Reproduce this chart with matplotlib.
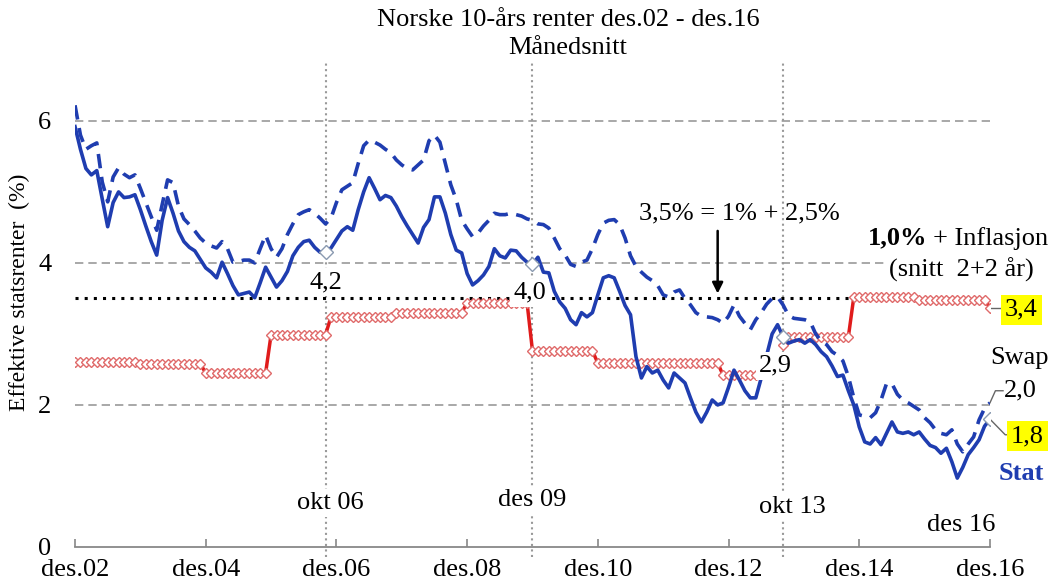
import numpy as np
import matplotlib
matplotlib.use('Agg')
import matplotlib.pyplot as plt

plt.rcParams['font.family'] = ['Liberation Serif', 'DejaVu Serif']

# månedlige verdier des.02 - des.16 (169 mnd)
stat = [5.92, 5.60, 5.33, 5.24, 5.30, 4.90, 4.51, 4.85, 5.00, 4.92, 4.93, 4.96,
        4.75, 4.52, 4.30, 4.11, 4.60, 4.92, 4.70, 4.45, 4.30, 4.22, 4.17, 4.05,
        3.93, 3.87, 3.79, 4.01, 3.85, 3.68, 3.55, 3.57, 3.59, 3.51, 3.72, 3.94,
        3.80, 3.66, 3.75, 3.88, 4.10, 4.22, 4.30, 4.32, 4.22, 4.15, 4.15, 4.21,
        4.33, 4.45, 4.51, 4.46, 4.75, 5.00, 5.20, 5.05, 4.89, 4.95, 4.92, 4.80,
        4.65, 4.52, 4.40, 4.28, 4.50, 4.61, 4.93, 4.93, 4.70, 4.40, 4.18, 4.14,
        3.85, 3.69, 3.75, 3.83, 3.95, 4.20, 4.10, 4.07, 4.18, 4.17, 4.08, 4.01,
        3.98, 4.08, 3.87, 3.86, 3.60, 3.45, 3.36, 3.20, 3.13, 3.30, 3.24, 3.30,
        3.55, 3.79, 3.82, 3.79, 3.60, 3.40, 3.27, 2.68, 2.38, 2.54, 2.45, 2.49,
        2.35, 2.24, 2.45, 2.38, 2.31, 2.10, 1.90, 1.76, 1.90, 2.07, 2.00, 2.03,
        2.25, 2.49, 2.35, 2.20, 2.10, 2.10, 2.38, 2.70, 3.00, 3.13, 2.96, 2.87,
        2.90, 2.92, 2.87, 2.92, 2.85, 2.75, 2.68, 2.55, 2.40, 2.42, 2.20, 2.00,
        1.69, 1.48, 1.45, 1.54, 1.44, 1.60, 1.76, 1.62, 1.60, 1.62, 1.58, 1.62,
        1.52, 1.43, 1.40, 1.32, 1.39, 1.20, 0.97, 1.12, 1.30, 1.40, 1.51, 1.70,
        1.80]

swap = [6.22, 5.80, 5.60, 5.65, 5.69, 5.14, 4.86, 5.21, 5.34, 5.25, 5.20, 5.24,
        5.05, 4.85, 4.65, 4.46, 4.82, 5.17, 5.13, 4.80, 4.62, 4.54, 4.45, 4.35,
        4.28, 4.24, 4.21, 4.30, 4.20, 4.01, 4.02, 4.04, 4.04, 4.00, 4.20, 4.39,
        4.20, 4.08, 4.20, 4.40, 4.55, 4.68, 4.72, 4.75, 4.70, 4.63, 4.55, 4.63,
        4.85, 5.03, 5.08, 5.13, 5.40, 5.65, 5.73, 5.70, 5.66, 5.60, 5.55, 5.45,
        5.38, 5.33, 5.31, 5.38, 5.45, 5.72, 5.80, 5.70, 5.40, 5.10, 4.89, 4.60,
        4.48, 4.37, 4.42, 4.52, 4.60, 4.70, 4.68, 4.68, 4.70, 4.68, 4.66, 4.62,
        4.60, 4.55, 4.54, 4.49, 4.35, 4.20, 4.11, 3.98, 3.95, 4.01, 4.04, 4.20,
        4.40, 4.56, 4.60, 4.61, 4.54, 4.35, 4.10, 3.95, 3.87, 3.80, 3.75, 3.68,
        3.55, 3.52, 3.59, 3.62, 3.50, 3.41, 3.30, 3.25, 3.24, 3.23, 3.20, 3.15,
        3.25, 3.41, 3.25, 3.15, 3.06, 3.20, 3.30, 3.42, 3.50, 3.52, 3.41, 3.26,
        3.22, 3.21, 3.20, 3.17, 3.00, 2.90, 2.85, 2.75, 2.70, 2.62, 2.40, 2.10,
        1.86, 1.84, 1.82, 1.89, 2.07, 2.30, 2.30, 2.15, 2.07, 2.03, 1.98, 1.93,
        1.82, 1.75, 1.65, 1.60, 1.58, 1.65, 1.45, 1.34, 1.45, 1.55, 1.79, 1.95,
        2.03]

nan = float('nan')
# 1,0% + inflasjon (snitt 2+2 år)
infl = [2.60, 2.60, 2.60, 2.60, 2.60, 2.60, 2.60, 2.60, 2.60, 2.60, 2.60, 2.60,
        2.58, 2.58, 2.58, 2.58, 2.58, 2.58, 2.58, 2.58, 2.58, 2.58, 2.58, 2.58,
        2.45, 2.45, 2.45, 2.45, 2.45, 2.45, 2.45, 2.45, 2.45, 2.45, 2.45, 2.45,
        2.99, 2.99, 2.99, 2.99, 2.99, 2.99, 2.99, 2.99, 2.99, 2.99, 2.99,
        3.24, 3.24, 3.24, 3.24, 3.24, 3.24, 3.24, 3.24, 3.24, 3.24, 3.24, 3.24,
        3.30, 3.30, 3.30, 3.30, 3.30, 3.30, 3.30, 3.30, 3.30, 3.30, 3.30, 3.30, 3.30,
        3.44, 3.44, 3.44, 3.44, 3.44, 3.44, 3.44, 3.44, 3.44, 3.44, 3.44, 3.44,
        2.76, 2.76, 2.76, 2.76, 2.76, 2.76, 2.76, 2.76, 2.76, 2.76, 2.76, 2.76,
        2.59, 2.59, 2.59, 2.59, 2.59, 2.59, 2.59, 2.59, 2.59, 2.59, 2.59, 2.59,
        2.59, 2.59, 2.59, 2.59, 2.59, 2.59, 2.59, 2.59, 2.59, 2.59, 2.59,
        2.42, 2.42, 2.42, 2.42, 2.42, 2.42, 2.42,
        nan, nan, nan, nan, 2.85,
        2.96, 2.96, 2.96, 2.96, 2.96, 2.96, 2.96, 2.96, 2.96, 2.96, 2.96, 2.96,
        3.52, 3.52, 3.52, 3.52, 3.52, 3.52, 3.52, 3.52, 3.52, 3.52, 3.52, 3.52,
        3.48, 3.48, 3.48, 3.48, 3.48, 3.48, 3.48, 3.48, 3.48, 3.48, 3.48, 3.48, 3.48,
        3.37]

months = np.arange(len(stat))
tick_pos = [0, 24, 48, 72, 96, 120, 144, 168]
tick_labels = ['des.02', 'des.04', 'des.06', 'des.08', 'des.10', 'des.12', 'des.14', 'des.16']
events = [46, 84, 130]          # okt 06, des 09, okt 13
event_labels = ['okt 06', 'des 09', 'okt 13']
event_values = ['4,2', '4,0', '2,9']

blue = '#1f3db0'
white_box = dict(boxstyle='square,pad=0.12', fc='white', ec='none')

fig = plt.figure(figsize=(10.58, 5.84), dpi=100)
ax = fig.add_axes([0.0709, 0.0634, 0.8648, 0.8305])
ax.set_xlim(0, 168)
ax.set_ylim(0, 6.83)

for y in [2, 4, 6]:
    ax.axhline(y, color='#999999', lw=1.2, ls=(0, (5, 3)), zorder=1)
for m in events:
    ax.axvline(m, ymin=-0.02, ymax=1, color='#999999', lw=1.5, ls=':', clip_on=False, zorder=1)
ax.axhline(3.5, color='black', lw=2.2, ls=(0, (1, 2)), zorder=2)

ax.plot(months, infl, color='#e01b1b', lw=2.5, marker='D', ms=5.5,
        mfc='white', mec='#e06a6a', mew=1.0, zorder=3)
ax.plot(months, swap, color=blue, lw=2.6, ls=(0, (4, 2.4)), zorder=4)
ax.plot(months, stat, color=blue, lw=2.6, zorder=5)
ax.plot([46, 84, 130, 168], [stat[46], stat[84], stat[130], stat[168]], ls='none',
        marker='D', ms=7, mfc='white', mec='#8a9ab0', mew=1.0, zorder=6)

# akser
for s in ['left', 'right', 'top']:
    ax.spines[s].set_visible(False)
ax.spines['bottom'].set_color('#888888')
ax.spines['bottom'].set_linewidth(1.3)
ax.set_xticks(tick_pos)
ax.set_xticklabels(tick_labels, fontsize=19)
ax.tick_params(axis='x', direction='in', length=6, color='#888888', width=1.2, pad=9)
ax.set_yticks([0, 2, 4, 6])
ax.set_yticklabels(['0', '2', '4', '6'], fontsize=19)
ax.tick_params(axis='y', length=0, pad=17)

fig.text(0.537, 0.965, 'Norske 10-års renter des.02 - des.16', ha='center', va='center', fontsize=19)
fig.text(0.537, 0.918, 'Månedsnitt', ha='center', va='center', fontsize=19)
fig.text(0.018, 0.50, 'Effektive statsrenter  (%)', rotation=90, ha='center', va='center', fontsize=17)

# tekster ved hendelser
ax.text(46.8, 0.62, event_labels[0], ha='center', va='center', fontsize=19, bbox=white_box, zorder=7)
ax.text(84, 0.66, event_labels[1], ha='center', va='center', fontsize=19, bbox=white_box, zorder=7)
ax.text(131.7, 0.56, event_labels[2], ha='center', va='center', fontsize=19, bbox=white_box, zorder=7)
ax.text(162.8, 0.31, 'des 16', ha='center', va='center', fontsize=19, zorder=7)
ax.text(46, 3.73, event_values[0], ha='center', va='center', fontsize=19, bbox=white_box, zorder=7)
ax.text(83.5, 3.58, event_values[1], ha='center', va='center', fontsize=19, bbox=white_box, zorder=7)
ax.text(128.6, 2.55, event_values[2], ha='center', va='center', fontsize=19, bbox=white_box, zorder=7)

ax.text(122, 4.70, '3,5% = 1% + 2,5%', ha='center', va='center', fontsize=19, zorder=7)
ax.annotate('', xy=(118, 3.53), xytext=(118, 4.49),
            arrowprops=dict(arrowstyle='-|>', color='black', lw=1.8, mutation_scale=16), zorder=7)

ax.text(156.5, 4.35, '1,0%', ha='right', va='center', fontsize=19, fontweight='bold', zorder=7)
ax.text(157.6, 4.35, '+ Inflasjon', ha='left', va='center', fontsize=19, zorder=7)
ax.text(162.8, 3.90, '(snitt  2+2 år)', ha='center', va='center', fontsize=19, bbox=white_box, zorder=7)

# etiketter ved endepunkt
ax.plot([168, 171.5], [infl[168], infl[168]], color='#666666', lw=1, clip_on=False)
ax.text(173.8, 3.34, '3,4', ha='center', va='center', fontsize=19,
        bbox=dict(boxstyle='square,pad=0.15', fc='#ffff00', ec='none'))
ax.text(173.4, 2.66, 'Swap', ha='center', va='center', fontsize=19)
ax.plot([168, 169.0, 170.4], [swap[168], 2.2, 2.2], color='#666666', lw=1, clip_on=False)
ax.text(170.5, 2.21, '2,0', ha='left', va='center', fontsize=19)
ax.plot([168, 170.8, 172.2], [stat[168], 1.58, 1.58], color='#666666', lw=1, clip_on=False)
ax.text(174.9, 1.56, '1,8', ha='center', va='center', fontsize=19,
        bbox=dict(boxstyle='square,pad=0.15', fc='#ffff00', ec='none'))
ax.text(173.8, 1.03, 'Stat', ha='center', va='center', fontsize=19, fontweight='bold', color=blue)

fig.savefig('out.png', dpi=100)
